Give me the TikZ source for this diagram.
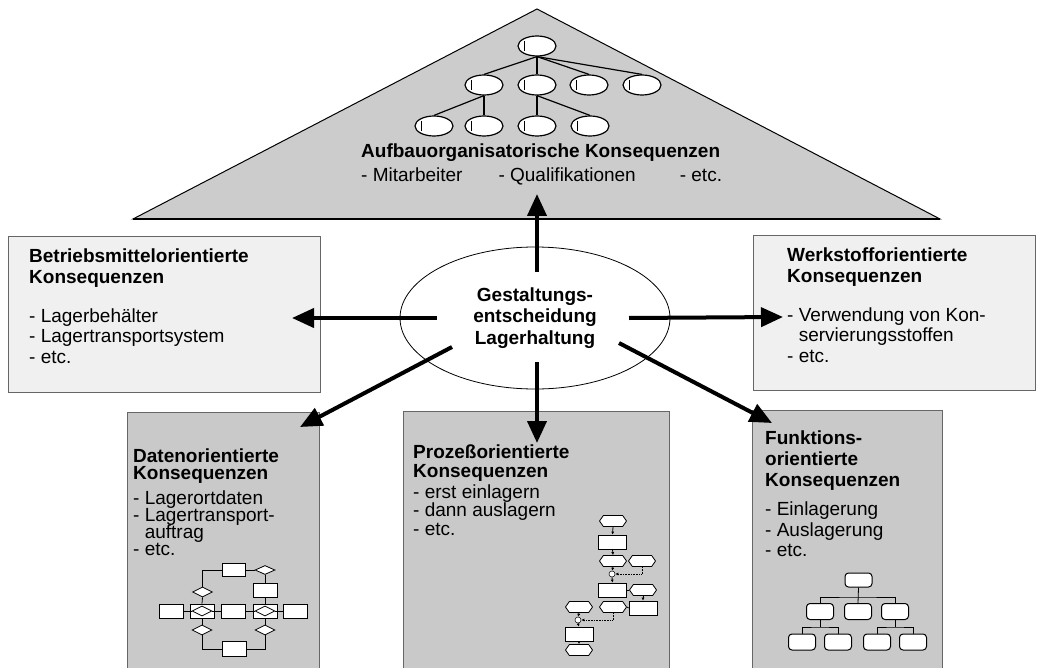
\documentclass[tikz,border=0pt]{standalone}
\usepackage{fontspec}
\setmainfont{Liberation Sans}
\usetikzlibrary{arrows.meta,shapes.geometric,shapes.symbols,calc}
% tight line spacing in the panel texts must not fall back to \lineskip
\lineskiplimit=-30pt\relax

\begin{document}
\begin{tikzpicture}[x=1pt,y=-1pt,
  txt/.style={anchor=north west, inner sep=0pt, align=left},
  toppanel/.style={draw=black!60, line width=0.8pt, fill=black!6},
  lowpanel/.style={draw=black!60, line width=0.8pt, fill=black!21},
  bigarrow/.style={line width=4pt, -{Triangle[length=22pt,width=19pt]}},
  thin/.style={line width=0.8pt},
  orgline/.style={line width=1.2pt},
  orgov/.style={ellipse, draw, fill=white, line width=1.2pt, minimum width=38pt,
    minimum height=20pt, inner sep=0pt,
    path picture={\draw[line width=0.7pt]
      ([xshift=-12.5pt,yshift=5pt]path picture bounding box.center) --
      ([xshift=-12.5pt,yshift=-5pt]path picture bounding box.center);}},
  fn/.style={draw, fill=white, line width=0.8pt, minimum width=28pt, minimum height=14pt, inner sep=0pt},
  ev/.style={signal, signal to=east and west, signal pointer angle=110, draw, fill=white,
    line width=0.8pt, minimum width=27pt, minimum height=11pt, inner sep=0pt},
  conn/.style={circle, draw, fill=white, minimum size=6pt, inner sep=0pt, line width=0.5pt},
  ent/.style={draw, fill=white, line width=0.8pt, minimum width=24pt, minimum height=14pt, inner sep=0pt},
  rel/.style={diamond, draw, fill=white, line width=0.8pt, minimum width=20pt, minimum height=10pt, inner sep=0pt},
  ft/.style={draw, fill=white, rounded corners=3.5pt, line width=1pt, minimum width=27pt,
    minimum height=16pt, inner sep=0pt},
  small/.style={thin, -{Latex[length=3pt,width=3pt]}},
  dotline/.style={line width=0.6pt, densely dotted, -{Latex[length=3pt,width=3pt]}}
]
\useasboundingbox (0,0) rectangle (1040,668);

% ---------- panels ----------
\path[toppanel] (8,236) rectangle (320,392);
\path[toppanel] (753,235) rectangle (1035,390);
\path[lowpanel] (127,412) rectangle (319,690);
\path[lowpanel] (403,411) rectangle (669,690);
\path[lowpanel] (752,410) rectangle (942,690);

% ---------- roof: organisational structure ----------
\filldraw[fill=black!20, draw=black, line width=1pt] (133,219) -- (537,9) -- (940,219) -- cycle;
\draw[line width=2.2pt] (133,219) -- (940,219);

\node[orgov] (o0) at (537,46) {};
\node[orgov] (o1) at (484,85) {};
\node[orgov] (o2) at (537,85) {};
\node[orgov] (o3) at (589,85) {};
\node[orgov] (o4) at (642,85) {};
\node[orgov] (o5) at (434,126) {};
\node[orgov] (o6) at (484,126) {};
\node[orgov] (o7) at (537,126) {};
\node[orgov] (o8) at (590,126) {};
\foreach \c in {o1,o2,o3,o4} \draw[orgline] (o0.south) -- (\c.north);
\draw[orgline] (o1.south) -- (o5.north);
\draw[orgline] (o1.south) -- (o6.north);
\draw[orgline] (o2.south) -- (o7.north);
\draw[orgline] (o2.south) -- (o8.north);

\node[txt, font=\fontsize{19}{23.5}\selectfont] (tAufbau) at (361,144)
  {\textbf{Aufbauorganisatorische Konsequenzen}\\
   - Mitarbeiter\hspace{36pt}- Qualifikationen\hspace{44pt}- etc.};

% ---------- side panels ----------
\node[txt, font=\fontsize{19}{20.5}\selectfont] (tBetrieb) at (29,249)
  {\textbf{Betriebsmittelorientierte}\\
   \textbf{Konsequenzen}\\[18.5pt]
   - Lagerbehälter\\
   - Lagertransportsystem\\
   - etc.};

\node[txt, font=\fontsize{19}{20.5}\selectfont] (tWerk) at (787,248)
  {\textbf{Werkstofforientierte}\\
   \textbf{Konsequenzen}\\[18.5pt]
   - Verwendung von Kon-\\
   \hspace*{11.6pt}servierungsstoffen\\
   - etc.};

% ---------- lower panels ----------
\node[txt, font=\fontsize{19}{17}\selectfont] (tDaten) at (133,449)
  {\textbf{Datenorientierte}\\
   \textbf{Konsequenzen}\\[8pt]
   - Lagerortdaten\\
   - Lagertransport-\\
   \hspace*{11.6pt}auftrag\\
   - etc.};

\node[txt, font=\fontsize{19}{18.5}\selectfont] (tProzess) at (413,445)
  {\textbf{Prozeßorientierte}\\
   \textbf{Konsequenzen}\\[2.5pt]
   - erst einlagern\\
   - dann auslagern\\
   - etc.};

\node[txt, font=\fontsize{19}{20.7}\selectfont] (tFunktion) at (765,431)
  {\textbf{Funktions-}\\
   \textbf{orientierte}\\
   \textbf{Konsequenzen}\\[8.5pt]
   - Einlagerung\\
   - Auslagerung\\
   - etc.};

% ---------- data model sketch ----------
\node[ent, minimum width=23pt, minimum height=13pt] (r1) at (233.5,570) {};
\node[rel, minimum height=9pt] (d1) at (265,570) {};
\node[ent] (r2) at (265,590) {};
\node[rel] (d2) at (202.5,592) {};
\node[ent] (ra) at (171,611) {};
\node[ent] (rb) at (202,611) {};
\node[rel] (db) at (202,611) {};
\node[ent] (rc) at (233,611) {};
\node[ent] (rd) at (265,611) {};
\node[rel] (dd) at (265,611) {};
\node[ent] (re) at (295,611) {};
\node[rel] (d3) at (202,630) {};
\node[rel] (d4) at (265,630) {};
\node[ent, minimum height=15pt] (r3) at (234,649) {};
\draw[thin] (r1.west) -| (d2.north);
\draw[thin] (r1.east) -- (d1.west);
\draw[thin] (d1.south) -- (r2.north);
\draw[thin] (r2.south) -- (rd.north);
\draw[thin] (d2.south) -- (rb.north);
\draw[thin] (ra.east) -- (rb.west);
\draw[thin] (rb.east) -- (rc.west);
\draw[thin] (rc.east) -- (rd.west);
\draw[thin] (rd.east) -- (re.west);
\draw[thin] (db.west) -- (rb.west);
\draw[thin] (db.east) -- (rb.east);
\draw[thin] (dd.west) -- (rd.west);
\draw[thin] (dd.east) -- (rd.east);
\draw[thin] (rb.south) -- (d3.north);
\draw[thin] (rd.south) -- (d4.north);
\draw[thin] (d3.south) |- (r3.west);
\draw[thin] (d4.south) |- (r3.east);

% ---------- process chain sketch ----------
\node[ev] (e1) at (613,521) {};
\node[fn] (f1) at (612.5,542) {};
\node[ev] (e2) at (613,561) {};
\node[ev] (e3) at (642,561) {};
\node[conn] (c1) at (612,574) {};
\node[fn] (f2) at (612.5,590) {};
\node[ev] (e4) at (643,590) {};
\node[fn] (f3) at (643,608) {};
\node[ev] (e5) at (613,607) {};
\node[ev] (e6) at (579,607) {};
\node[conn] (c2) at (578,620) {};
\node[fn] (f4) at (579,634) {};
\node[ev] (e7) at (579,650) {};
\draw[small] (e1.south) -- (f1.north);
\draw[small] (f1.south) -- (e2.north);
\draw[small] (e2.south) -- (c1.north);
\draw[small] (c1.south) -- (f2.north);
\draw[dotline] (e3.south) |- (c1.east);
\draw[thin] (f2.east) -- (e4.west);
\draw[small] (e4.south) -- (f3.north);
\draw[thin] (e5.east) -- (f3.west);
\draw[small] (e6.south) -- (c2.north);
\draw[dotline] (e5.south) |- (c2.east);
\draw[small] (c2.south) -- (f4.north);
\draw[small] (f4.south) -- (e7.north);

% ---------- function tree sketch ----------
\node[ft, minimum height=14pt] (t0) at (858.5,580) {};
\node[ft] (t1) at (820,611.5) {};
\node[ft] (t2) at (858,611.5) {};
\node[ft] (t3) at (895,611.5) {};
\node[ft] (t4) at (802,642) {};
\node[ft] (t5) at (838,642) {};
\node[ft] (t6) at (877,642) {};
\node[ft] (t7) at (913,642) {};
\coordinate (bus1) at (858,597);
\coordinate (bus2) at (820,627);
\coordinate (bus3) at (895,627);
\draw[thin] (t0.south) -- (t2.north);
\draw[thin] (t1.north) |- (bus1) -| (t3.north);
\draw[thin] (t1.south) -- (bus2);
\draw[thin] (t4.north) |- (bus2) -| (t5.north);
\draw[thin] (t3.south) -- (bus3);
\draw[thin] (t6.north) |- (bus3) -| (t7.north);

% ---------- central decision ----------
\node[ellipse, draw, line width=0.8pt, fill=white, minimum width=270pt, minimum height=142pt,
  inner sep=0pt, align=center, font=\bfseries\fontsize{19}{21.5}\selectfont] (core) at (535,318)
  {Gestaltungs-\\entscheidung\\Lagerhaltung};

\coordinate (sUp) at (537,272);  \coordinate (tUp) at (537,194);
\coordinate (sL) at (437,318);   \coordinate (tL) at (292,318);
\coordinate (sR) at (629,318);   \coordinate (tR) at (783,317);
\coordinate (sDL) at (452,347);  \coordinate (tDL) at (300,427);
\coordinate (sD) at (537,362);   \coordinate (tD) at (537,443);
\coordinate (sDR) at (619,343);  \coordinate (tDR) at (772,423);

\draw[bigarrow] (sUp) -- (tUp);
\draw[bigarrow] (sL) -- (tL);
\draw[bigarrow] (sR) -- (tR);
\draw[bigarrow] (sDL) -- (tDL);
\draw[bigarrow] (sD) -- (tD);
\draw[bigarrow] (sDR) -- (tDR);
\end{tikzpicture}
\end{document}
